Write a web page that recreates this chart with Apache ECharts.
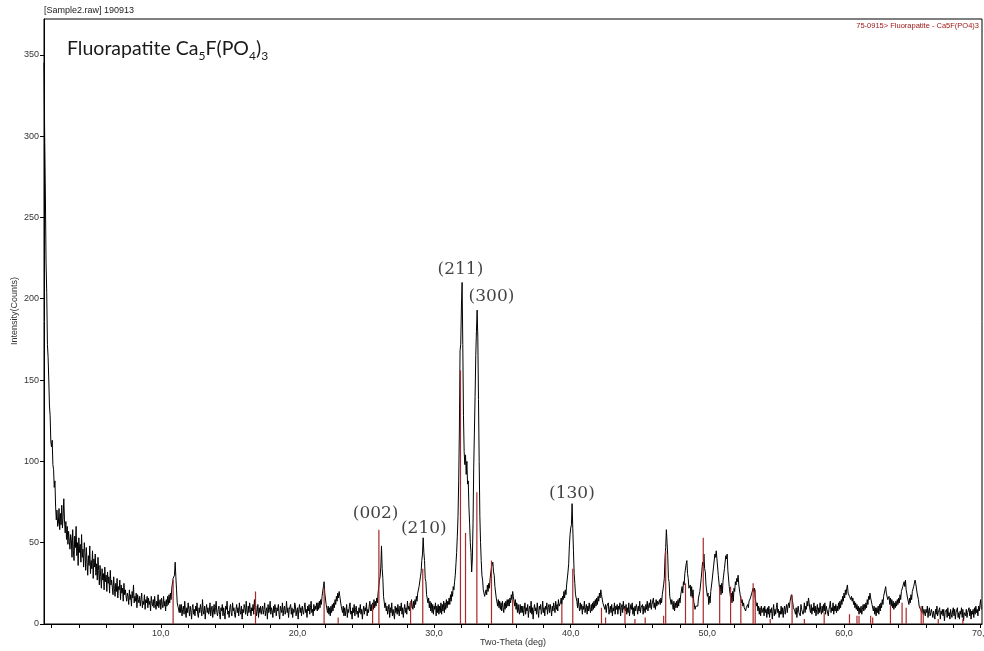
<!DOCTYPE html>
<html>
<head>
<meta charset="utf-8">
<script src="https://cdn.jsdelivr.net/npm/echarts@6/dist/echarts.min.js"></script>
<style>
  html, body { margin: 0; padding: 0; background: #ffffff; }
  #chart { width: 984px; height: 651px; }
</style>
</head>
<body>
<div id="chart"></div>
<script>
// Scan grid of the measurement (degrees 2-theta)
const scanStart = 1.45;
const scanStep = 0.05;

// Measured intensity (counts); each row covers one degree, from n.45 to n+1.40
const counts = [
  345, 300, 265, 222, 204, 172, 164, 150, 134, 128, 112, 109, 113, 98, 95, 84, 88, 72, 64, 70,
  60, 62, 71, 58, 68, 61, 73, 59, 66, 77, 64, 56, 63, 52, 60, 49, 57, 51, 46, 55,
  52, 41, 58, 45, 39, 54, 47, 60, 42, 50, 36, 53, 44, 49, 38, 55, 41, 46, 35, 50,
  44, 33, 47, 38, 30, 42, 36, 48, 31, 39, 34, 45, 28, 40, 35, 43, 30, 37, 27, 41,
  33, 24, 36, 29, 22, 34, 27, 31, 21, 35, 26, 30, 20, 32, 25, 29, 19, 33, 24, 27,
  26, 18, 29, 22, 17, 25, 20, 28, 16, 23, 21, 27, 15, 24, 19, 22, 14, 25, 18, 21,
  22, 14, 19, 17, 12, 21, 15, 18, 11, 20, 16, 24, 13, 17, 14, 19, 10, 18, 15, 13,
  17, 11, 15, 19, 10, 14, 12, 18, 9, 15, 13, 17, 10, 16, 12, 14, 8, 17, 13, 11,
  15, 10, 17, 12, 9, 14, 11, 18, 10, 13, 15, 9, 16, 12, 10, 17, 11, 14, 8, 15,
  11, 17, 12, 18, 13, 19, 15, 22, 23, 28, 28, 30, 38, 29, 21, 13, 11, 12, 7, 12,
  7, 12, 5, 9, 11, 6, 14, 8, 4, 10, 7, 13, 9, 5, 11, 8, 3, 10, 12, 6,
  9, 5, 11, 8, 13, 6, 4, 10, 7, 12, 9, 5, 15, 8, 6, 11, 3, 9, 12, 7,
  10, 6, 8, 13, 5, 9, 11, 4, 8, 12, 6, 10, 14, 7, 5, 9, 11, 6, 3, 10,
  8, 12, 5, 10, 7, 3, 11, 9, 14, 6, 8, 4, 10, 12, 7, 5, 13, 8, 10, 6,
  4, 9, 12, 7, 10, 5, 13, 8, 6, 11, 3, 9, 7, 12, 10, 6, 14, 8, 5, 11,
  7, 13, 9, 5, 10, 8, 12, 6, 15, 9, 11, 5, 8, 12, 4, 10, 7, 11, 6, 9,
  11, 6, 9, 13, 5, 8, 10, 3, 12, 7, 9, 14, 6, 10, 8, 4, 11, 7, 12, 9,
  5, 10, 8, 12, 6, 3, 11, 9, 7, 13, 5, 9, 11, 6, 8, 14, 7, 10, 4, 9,
  8, 12, 6, 10, 4, 9, 7, 13, 11, 5, 8, 10, 3, 9, 12, 7, 10, 5, 11, 8,
  6, 10, 13, 7, 9, 4, 11, 8, 12, 6, 10, 14, 7, 9, 5, 12, 8, 11, 9, 13,
  8, 13, 9, 14, 10, 15, 12, 17, 16, 23, 26, 19, 18, 12, 12, 7, 11, 6, 10, 5,
  11, 7, 12, 8, 13, 10, 15, 12, 17, 14, 19, 16, 20, 17, 16, 11, 11, 7, 11, 5,
  10, 5, 8, 12, 4, 9, 7, 11, 13, 6, 8, 3, 10, 7, 12, 5, 9, 11, 6, 8,
  4, 10, 7, 12, 6, 9, 3, 8, 11, 6, 10, 8, 13, 5, 9, 7, 11, 14, 8, 12,
  8, 13, 9, 15, 10, 14, 11, 16, 13, 19, 20, 27, 29, 35, 48, 34, 28, 17, 16, 10,
  13, 8, 11, 6, 9, 12, 4, 10, 7, 13, 5, 9, 8, 3, 11, 7, 10, 6, 12, 8,
  5, 11, 8, 13, 6, 10, 4, 9, 12, 7, 10, 6, 14, 9, 11, 8, 13, 10, 15, 11,
  9, 14, 10, 15, 12, 17, 14, 19, 18, 23, 24, 29, 32, 39, 43, 53, 44, 39, 28, 26,
  18, 19, 13, 16, 10, 14, 8, 13, 7, 12, 6, 11, 9, 13, 5, 11, 7, 12, 6, 11,
  7, 13, 6, 12, 8, 14, 7, 13, 9, 15, 10, 14, 12, 16, 12, 18, 14, 20, 17, 23,
  21, 26, 30, 37, 44, 54, 66, 88, 118, 168, 172, 195, 210, 172, 128, 106, 98, 104, 92, 100,
  86, 88, 72, 62, 50, 44, 32, 40, 62, 96, 118, 140, 165, 180, 193, 176, 138, 100, 66, 50,
  39, 30, 27, 21, 20, 17, 19, 21, 18, 24, 20, 25, 22, 28, 29, 35, 34, 38, 32, 30,
  23, 22, 16, 16, 11, 15, 10, 14, 9, 13, 8, 14, 10, 7, 13, 9, 14, 10, 15, 11,
  15, 11, 16, 13, 18, 15, 20, 17, 16, 11, 15, 9, 13, 7, 12, 8, 6, 12, 7, 11,
  7, 11, 5, 9, 13, 6, 10, 8, 12, 4, 9, 11, 7, 14, 6, 10, 3, 9, 12, 8,
  10, 6, 13, 8, 4, 11, 9, 12, 6, 8, 14, 7, 10, 5, 11, 9, 13, 6, 10, 12,
  7, 12, 9, 5, 11, 8, 13, 10, 7, 14, 9, 12, 8, 15, 11, 10, 13, 16, 12, 17,
  15, 20, 16, 21, 18, 24, 25, 32, 37, 48, 55, 59, 61, 74, 59, 45, 31, 25, 18, 17,
  14, 10, 16, 11, 8, 13, 9, 12, 6, 11, 9, 14, 7, 10, 12, 6, 11, 8, 13, 9,
  7, 12, 8, 13, 9, 14, 10, 15, 11, 16, 12, 17, 14, 19, 16, 21, 18, 17, 13, 13,
  14, 9, 12, 7, 11, 10, 13, 6, 9, 11, 7, 12, 5, 10, 8, 13, 6, 11, 9, 12,
  6, 11, 9, 13, 5, 10, 12, 7, 14, 9, 11, 8, 12, 6, 10, 7, 13, 5, 9, 12,
  9, 13, 6, 10, 5, 11, 8, 12, 10, 6, 11, 8, 14, 7, 10, 9, 12, 6, 11, 10,
  7, 12, 9, 14, 8, 11, 13, 10, 15, 9, 12, 11, 16, 10, 13, 9, 15, 11, 14, 12,
  11, 15, 12, 16, 13, 18, 17, 24, 28, 41, 47, 58, 50, 42, 28, 26, 17, 18, 12, 15,
  12, 9, 14, 8, 13, 10, 14, 10, 15, 11, 16, 13, 18, 17, 23, 19, 26, 24, 31, 30,
  37, 39, 31, 28, 22, 21, 24, 17, 23, 16, 21, 14, 15, 9, 11, 10, 12, 11, 16, 15,
  20, 21, 28, 29, 38, 36, 43, 34, 32, 24, 24, 17, 19, 12, 17, 13, 20, 19, 27, 27,
  35, 34, 43, 41, 45, 40, 39, 30, 30, 21, 24, 18, 25, 19, 27, 26, 34, 33, 42, 40,
  43, 33, 33, 23, 24, 16, 19, 13, 20, 14, 22, 20, 26, 24, 28, 26, 30, 24, 25, 18,
  19, 13, 15, 11, 13, 10, 11, 8, 10, 11, 12, 10, 14, 13, 16, 15, 19, 18, 22, 20,
  22, 16, 17, 11, 13, 8, 11, 6, 10, 5, 11, 7, 6, 10, 5, 11, 7, 9, 4, 10,
  6, 11, 4, 9, 7, 10, 3, 8, 12, 5, 9, 6, 10, 13, 7, 9, 4, 8, 6, 11,
  6, 10, 4, 9, 11, 6, 10, 12, 7, 11, 13, 10, 14, 13, 18, 16, 15, 10, 11, 8,
  6, 10, 4, 9, 11, 7, 8, 5, 12, 9, 10, 6, 8, 13, 7, 11, 9, 14, 11, 16,
  13, 9, 7, 12, 6, 10, 8, 13, 7, 11, 5, 9, 12, 6, 10, 7, 13, 8, 6, 11,
  7, 12, 8, 13, 6, 11, 9, 10, 5, 9, 11, 14, 7, 10, 8, 13, 6, 11, 8, 12,
  7, 11, 8, 13, 9, 14, 10, 15, 12, 17, 14, 19, 16, 21, 18, 22, 24, 19, 18, 17,
  18, 15, 17, 14, 16, 12, 14, 10, 13, 9, 12, 8, 11, 6, 10, 7, 11, 6, 9, 12,
  8, 12, 9, 13, 10, 15, 12, 17, 15, 19, 16, 16, 12, 12, 8, 11, 6, 10, 5, 10,
  7, 11, 6, 12, 8, 13, 10, 15, 12, 17, 16, 21, 23, 19, 19, 15, 15, 17, 12, 16,
  11, 15, 10, 14, 9, 13, 10, 14, 11, 15, 12, 16, 13, 18, 15, 20, 19, 23, 22, 26,
  23, 27, 21, 21, 16, 16, 12, 16, 13, 18, 15, 20, 19, 23, 23, 27, 25, 25, 19, 18,
  15, 11, 12, 9, 10, 7, 11, 6, 9, 10, 5, 9, 7, 11, 4, 8, 10, 5, 7, 9,
  9, 4, 8, 7, 3, 9, 6, 11, 5, 7, 8, 10, 3, 8, 6, 9, 5, 9, 2, 7,
  6, 9, 4, 10, 5, 7, 3, 9, 6, 4, 8, 10, 5, 9, 3, 7, 8, 10, 4, 7,
  3, 8, 6, 10, 4, 9, 2, 7, 8, 5, 9, 4, 7, 6, 10, 5, 9, 3, 8, 6,
  9, 4, 10, 6, 11, 7, 9, 5, 11, 8, 12, 15, 9
];

// Reference pattern 75-0915 (Fluorapatite): line positions and heights
const refAngles = [
  10.9, 16.93, 21.95, 22.98, 25.5, 25.96, 28.28, 29.17, 31.93, 32.3,
  33.13, 34.2, 35.75, 39.35, 40.15, 42.25, 42.55, 43.97, 44.7, 45.45,
  46.8, 46.95, 48.4, 48.95, 49.7, 50.9, 51.7, 52.45, 53.35, 53.5,
  54.6, 56.2, 57.1, 58.55, 60.4, 60.95, 61.1, 61.95, 62.1, 63.4,
  64.25, 64.55, 65.65, 65.8, 66.9, 68.7
];
const refHeights = [
  27, 20, 22, 4, 12, 58, 14, 34, 156, 56,
  81, 39, 15, 12, 34, 10, 4, 10, 3, 4,
  5, 45, 25, 17, 53, 23, 23, 17, 25, 21,
  3, 18, 3, 7, 6, 5, 5, 5, 4, 11,
  13, 10, 11, 7, 3, 3
];

// Miller indices of the main reflections
const hklText = ['(002)', '(210)', '(211)', '(300)', '(130)'];
const hklAngles = [25.72, 29.25, 31.93, 34.2, 40.09];
const hklCounts = [67.6, 58.4, 218, 201.5, 80.5];

// Axis ticks and labels
const xTickValues = [2, 4, 6, 8, 10, 12, 14, 16, 18, 20, 22, 24, 26, 28, 30, 32, 34, 36,
  38, 40, 42, 44, 46, 48, 50, 52, 54, 56, 58, 60, 62, 64, 66, 68, 70];
const xLabelValues = [10, 20, 30, 40, 50, 60, 70];
const yTickValues = [0, 50, 100, 150, 200, 250, 300, 350];

const pattern = counts.map((c, i) => [+(scanStart + i * scanStep).toFixed(2), c]);
const sticks = refAngles.map((a, i) => [a, refHeights[i]]);
const hklPoints = hklAngles.map((a, i) => ({ value: [a, hklCounts[i]], name: hklText[i] }));

const chart = echarts.init(document.getElementById('chart'), null, { renderer: 'canvas' });

const smallFont = { fontFamily: 'Liberation Sans, Arial, sans-serif', fontSize: 9, color: '#333' };

chart.setOption({
  animation: false,
  backgroundColor: '#ffffff',
  grid: {
    left: 44, right: 2, top: 19, bottom: 27,
    outerBoundsMode: 'none',
    containLabel: false,
    show: true, borderColor: '#000', borderWidth: 1, backgroundColor: 'transparent'
  },
  xAxis: {
    type: 'value',
    min: 1.45, max: 70.1,
    axisLine: { show: true, lineStyle: { color: '#000', width: 1 } },
    axisTick: { show: true, length: 4, lineStyle: { color: '#000' }, customValues: xTickValues },
    axisLabel: {
      ...smallFont, margin: 5, customValues: xLabelValues, hideOverlap: false,
      formatter: v => v.toFixed(1).replace('.', ',')
    },
    splitLine: { show: false }
  },
  yAxis: {
    type: 'value',
    min: 0, max: 372,
    axisLine: { show: true, lineStyle: { color: '#000', width: 1 } },
    axisTick: { show: true, length: 4, lineStyle: { color: '#000' }, customValues: yTickValues },
    axisLabel: { ...smallFont, margin: 5, customValues: yTickValues },
    splitLine: { show: false }
  },
  series: [
    {
      type: 'line',
      data: pattern,
      showSymbol: false,
      symbol: 'none',
      sampling: 'none',
      lineStyle: { color: '#000', width: 1 },
      z: 2
    },
    {
      type: 'custom',
      data: sticks,
      renderItem: (params, api) => {
        const p0 = api.coord([api.value(0), 0]);
        const p1 = api.coord([api.value(0), api.value(1)]);
        return {
          type: 'line',
          shape: { x1: p0[0], y1: p0[1], x2: p1[0], y2: p1[1] },
          style: { stroke: '#a82a2a', lineWidth: 1.2 }
        };
      },
      z: 3
    },
    {
      type: 'scatter',
      data: hklPoints,
      symbolSize: 0,
      label: {
        show: true,
        position: 'inside',
        formatter: p => p.name,
        fontFamily: 'DejaVu Serif, serif',
        fontSize: 17,
        color: '#111'
      },
      z: 4
    }
  ],
  graphic: [
    {
      type: 'text', left: 44, top: 6,
      style: { text: '[Sample2.raw] 190913', font: '9px "Liberation Sans", Arial, sans-serif', fill: '#222' }
    },
    {
      type: 'text', right: 5, top: 22,
      style: { text: '75-0915> Fluorapatite - Ca5F(PO4)3', font: '7.5px "Liberation Sans", Arial, sans-serif', fill: '#a01818' }
    },
    {
      type: 'text', left: 67, top: 39,
      style: {
        text: '{a|Fluorapatite Ca}{s|5}{a|F(PO}{s|4}{a|)}{s|3}',
        rich: {
          a: { fontFamily: 'Lato, sans-serif', fontSize: 19.5, fill: '#1a1a1a', verticalAlign: 'bottom', padding: [0, 0, 3, 0] },
          s: { fontFamily: 'Lato, sans-serif', fontSize: 12, fill: '#1a1a1a', verticalAlign: 'bottom' }
        }
      }
    },
    {
      type: 'text', x: 15, y: 311, rotation: Math.PI / 2,
      style: { text: 'Intensity(Counts)', font: '9px "Liberation Sans", Arial, sans-serif', fill: '#333', align: 'center', verticalAlign: 'middle' }
    },
    {
      type: 'text', x: 513, y: 643,
      style: { text: 'Two-Theta (deg)', font: '9px "Liberation Sans", Arial, sans-serif', fill: '#333', align: 'center', verticalAlign: 'middle' }
    }
  ]
});
</script>
</body>
</html>
